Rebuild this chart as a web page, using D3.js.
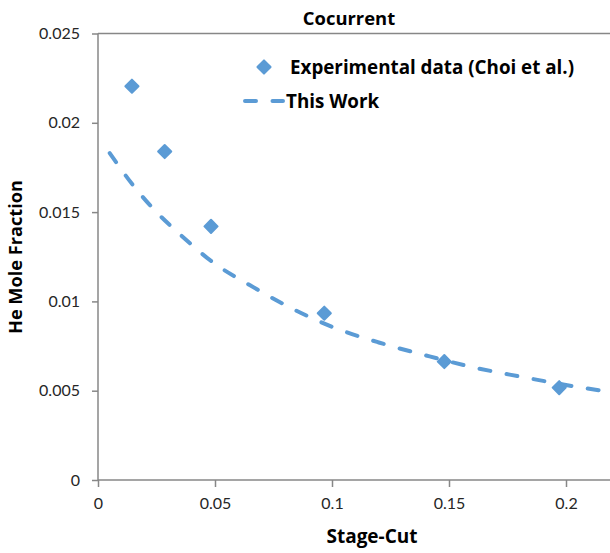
<!DOCTYPE html>
<html>
<head>
<meta charset="utf-8">
<script src="https://cdn.jsdelivr.net/npm/d3@7"></script>
<style>
  body { margin: 0; background: #fff; }
  text { font-family: Lato, "Open Sans", sans-serif; }
  .bold { font-family: "Open Sans", sans-serif; font-weight: bold; fill: #000; }
</style>
</head>
<body>
<div id="chart"></div>
<script>
// data
var expX = [0.0145, 0.0285, 0.0483, 0.0967, 0.148, 0.1971];
var expY = [0.02205, 0.01839, 0.0142, 0.00934, 0.00663, 0.00517];

var workX = [0.005, 0.015, 0.025, 0.035, 0.05, 0.065, 0.08, 0.1, 0.12, 0.14, 0.16, 0.18, 0.2, 0.215];
var workY = [0.0183, 0.0165, 0.0150, 0.01376, 0.0121, 0.0109, 0.0098, 0.00858, 0.0077, 0.00698, 0.00632, 0.0058, 0.00532, 0.0050];

var xTicks = [0, 0.05, 0.1, 0.15, 0.2];
var xTickLabels = ["0", "0.05", "0.1", "0.15", "0.2"];
var yTicks = [0, 0.005, 0.01, 0.015, 0.02, 0.025];
var yTickLabels = ["0", "0.005", "0.01", "0.015", "0.02", "0.025"];

var width = 610, height = 553;
var blue = "#5b9bd5";
var axisColor = "#878787";

var svg = d3.select("#chart").append("svg")
  .attr("width", width)
  .attr("height", height);

var x = d3.scaleLinear().domain([0, 0.22]).range([98, 612.8]);
var y = d3.scaleLinear().domain([0, 0.025]).range([480, 33.5]);

// x axis
var xAxis = d3.axisBottom(x)
  .tickValues(xTicks)
  .tickSize(7)
  .tickPadding(11)
  .tickFormat(function(d, i) { return xTickLabels[i]; });
var gx = svg.append("g")
  .attr("transform", "translate(0," + y(0) + ")")
  .call(xAxis);

// y axis
var yAxis = d3.axisLeft(y)
  .tickValues(yTicks)
  .tickSize(6)
  .tickPadding(12)
  .tickFormat(function(d, i) { return yTickLabels[i]; });
var gy = svg.append("g")
  .attr("transform", "translate(" + x(0) + ",0)")
  .call(yAxis);

[gx, gy].forEach(function(g) {
  g.select(".domain").attr("stroke", axisColor).attr("stroke-width", 1.5);
  g.selectAll(".tick line").attr("stroke", axisColor).attr("stroke-width", 1.5);
  g.selectAll(".tick text")
    .attr("fill", "#262626")
    .style("font-size", "16px")
    .style("font-family", "Lato, sans-serif");
});
gy.select(".domain").attr("d", "M0," + y(0) + "V" + y(0.025));
gx.select(".domain").attr("d", "M" + x(0) + ",0H" + x(0.22));

// top border of plot area
svg.append("line")
  .attr("x1", x(0)).attr("x2", x(0.22))
  .attr("y1", y(0.025)).attr("y2", y(0.025))
  .attr("stroke", axisColor).attr("stroke-width", 1.5);

// model curve (dashed)
var line = d3.line()
  .x(function(d) { return x(d[0]); })
  .y(function(d) { return y(d[1]); })
  .curve(d3.curveMonotoneX);

svg.append("path")
  .datum(d3.zip(workX, workY))
  .attr("d", line)
  .attr("fill", "none")
  .attr("stroke", blue)
  .attr("stroke-width", 4)
  .attr("stroke-linecap", "round")
  .attr("stroke-dasharray", "11,16.5");

// experimental points (diamonds)
var diamond = d3.symbol().type(d3.symbolDiamond2).size(110);
svg.selectAll(".pt")
  .data(d3.zip(expX, expY))
  .enter()
  .append("path")
  .attr("class", "pt")
  .attr("d", diamond)
  .attr("transform", function(d) { return "translate(" + x(d[0]) + "," + y(d[1]) + ")"; })
  .attr("fill", blue)
  .attr("stroke", blue)
  .attr("stroke-width", 2)
  .attr("stroke-linejoin", "round");

// title
svg.append("text")
  .attr("class", "bold")
  .attr("x", 349).attr("y", 25)
  .attr("text-anchor", "middle")
  .style("font-size", "18.4px")
  .text("Cocurrent");

// axis titles
svg.append("text")
  .attr("class", "bold")
  .attr("x", 372).attr("y", 543)
  .attr("text-anchor", "middle")
  .style("font-size", "19px")
  .text("Stage-Cut");

svg.append("text")
  .attr("class", "bold")
  .attr("transform", "translate(22,257) rotate(-90)")
  .attr("text-anchor", "middle")
  .style("font-size", "18.2px")
  .text("He Mole Fraction");

// legend
var legend = svg.append("g");
legend.append("path")
  .attr("d", diamond)
  .attr("transform", "translate(264,67)")
  .attr("fill", blue).attr("stroke", blue)
  .attr("stroke-width", 2).attr("stroke-linejoin", "round");
legend.append("text")
  .attr("class", "bold")
  .attr("x", 290).attr("y", 74)
  .style("font-size", "18.8px")
  .text("Experimental data (Choi et al.)");

legend.append("line")
  .attr("x1", 245).attr("x2", 283)
  .attr("y1", 101).attr("y2", 101)
  .attr("stroke", blue).attr("stroke-width", 4)
  .attr("stroke-linecap", "round")
  .attr("stroke-dasharray", "11,16.5");
legend.append("text")
  .attr("class", "bold")
  .attr("x", 286).attr("y", 108)
  .style("font-size", "18.8px")
  .text("This Work");
</script>
</body>
</html>
